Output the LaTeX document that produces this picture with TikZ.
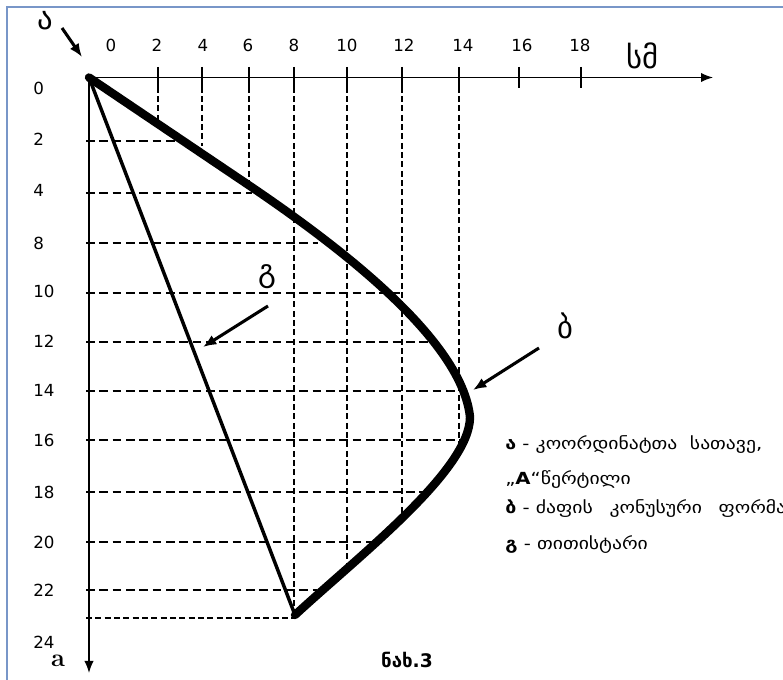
\documentclass[tikz,border=0pt]{standalone}
\usepackage{fontspec}
\newfontfamily\dejavu{DejaVu Sans}
\newfontfamily\geo{DejaVu Sans}
\newfontfamily\geowide[FakeStretch=1.18]{DejaVu Sans}
\usetikzlibrary{arrows.meta}
\definecolor{framecol}{RGB}{120,150,200}
\begin{document}
\begin{tikzpicture}[x=0.75pt,y=-0.75pt,
  num/.style={font=\dejavu\fontsize{12.5}{14}\selectfont, inner sep=0},
  ynum/.style={num, anchor=west},
  hdash/.style={line width=1pt, dash pattern=on 6.5pt off 3.5pt},
  vdash/.style={line width=0.9pt, dash pattern=on 4.5pt off 2.5pt},
  axisline/.style={line width=1.1pt, -{Latex[length=9pt,width=7pt]}},
  tickline/.style={line width=1.1pt},
  ptr/.style={line width=2.3pt, -{Latex[length=10pt,width=8pt]}},
  biglbl/.style={font=\geo\fontsize{23}{26}\selectfont, inner sep=0},
  legend/.style={font=\geowide\fontsize{12.5}{14}\selectfont, anchor=west, inner sep=0},
  conecurve/.style={line width=6.3pt, line cap=round, line join=round},
  spindle/.style={line width=2.6pt, line cap=round}
]
\useasboundingbox (0,0) rectangle (783,680);
\clip (0,0) rectangle (783,680);
\draw[framecol, line width=1pt] (7,7) rectangle (800,700);

\coordinate (O) at (89,77.5);
\coordinate (xend) at (713,77.5);
\coordinate (yend) at (89,673);
\coordinate (V) at (295,615);
\coordinate (C1) at (250,186);
\coordinate (M) at (470,417);

% dashed grid
\foreach \x/\y in {158/120, 202/146, 249/190, 294/616, 347/565, 402/522, 459/445}
  \draw[vdash] (\x,77.5) -- (\x,\y);
\foreach \y/\x in {141/182, 193/252, 243/318, 293/400, 342/430, 391/467, 440/470, 492/430, 542/378, 590/317}
  \draw[hdash] (86,\y) -- (\x,\y);
\draw[vdash] (86,618) -- (295,618);

% ticks
\foreach \x in {158,202,249,294,347,402,459,519,581}
  \draw[tickline] (\x,67) -- (\x,88);

% axes
\draw[axisline] (O) -- (xend);
\draw[axisline] (O) -- (yend);

% curves
\draw[conecurve] (O) -- (C1) .. controls (340,247) and (462,340) .. (M)
  .. controls (470,470) and (360,555) .. (V);
\draw[spindle] (O) -- (V);

% pointers
\coordinate (a1) at (62,28); \coordinate (a2) at (82,57);
\coordinate (g1) at (268,306); \coordinate (g2) at (203,347);
\coordinate (b1) at (539,348); \coordinate (b2) at (473,390);
\draw[ptr] (a1) -- (a2);
\draw[ptr] (g1) -- (g2);
\draw[ptr] (b1) -- (b2);
\node[biglbl] (la) at (45,21) {ა};
\node[biglbl] (lg) at (267,277) {გ};
\node[biglbl] (lb) at (565,326) {ბ};

% x numbers
\foreach \x/\t in {111/0, 157/2, 203/4, 248/6, 294/8, 347/10, 404/12, 463/14, 522/16, 580/18}
  \node[num] at (\x,45) {\t};
% y numbers
\foreach \y/\t in {88/0, 139/2, 190/4, 243/8, 291/10, 341/12, 390/14, 440/16, 492/18, 542/20, 590/22, 642/24}
  \node[ynum] at (33,\y) {\t};

\node[biglbl] (unit) at (643,56) {სმ};
\node[inner sep=0, font=\fontsize{19}{20}\selectfont\bfseries] (alab) at (58,661) {a};
\node[inner sep=0, font=\geo\fontsize{14}{16}\selectfont\bfseries] (cap) at (407,660) {ნახ.3};

% legend
\node[legend] (l1) at (505,445) {\textbf{ა} - კოორდინატთა\ \ სათავე,};
\node[legend] (l2) at (505,479) {„\textbf{A}“წერტილი};
\node[legend] (l3) at (505,508) {\textbf{ბ} - ძაფის\hspace{1em}კონუსური\hspace{1em}ფორმა};
\node[legend] (l4) at (505,545) {\textbf{გ} - თითისტარი};
\end{tikzpicture}
\end{document}
